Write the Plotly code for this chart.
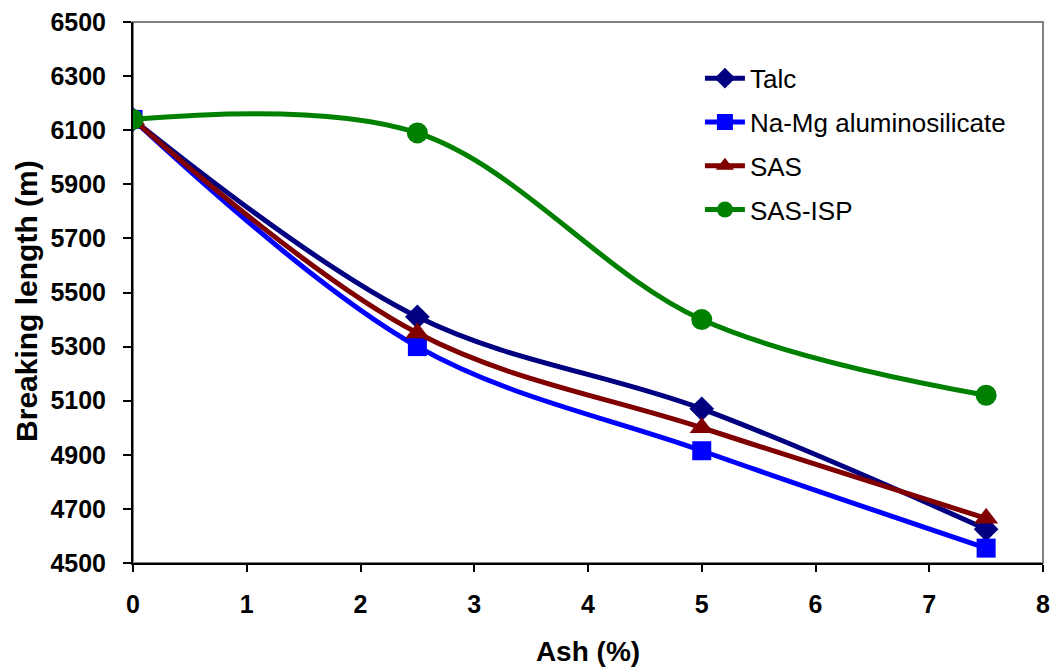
import plotly.graph_objects as go

ash = [0, 2.5, 5, 7.5]
talc = [6140, 5410, 5070, 4625]
namg = [6140, 5300, 4915, 4555]
sas = [6140, 5350, 5000, 4665]
sas_isp = [6140, 6090, 5400, 5120]

series = [
    ("Talc", talc, "#000080", "diamond", 19),
    ("Na-Mg aluminosilicate", namg, "#0000FF", "square", 19),
    ("SAS", sas, "#800000", "triangle-up", 21),
    ("SAS-ISP", sas_isp, "#008000", "circle", 21),
]

fig = go.Figure()
for name, vals, color, sym, sz in series:
    fig.add_trace(go.Scatter(
        x=ash, y=vals, name=name, mode="lines+markers", legendgroup=name,
        line=dict(color=color, width=5, shape="spline", smoothing=1.0),
        marker=dict(color=color, symbol=sym, size=sz),
    ))

fig.add_shape(type="rect", xref="paper", yref="paper", x0=0, y0=0, x1=1, y1=1,
              line=dict(color="#808080", width=2), layer="below")

font = "Liberation Sans, Arial, sans-serif"
fig.add_annotation(text="Breaking length (m)", xref="paper", yref="paper",
                   x=-0.1178, y=0.484, xanchor="center", yanchor="middle",
                   textangle=-90, showarrow=False,
                   font=dict(size=30, family=font, weight="bold", color="black"))

fig.update_layout(
    width=1058, height=670,
    margin=dict(l=133, r=8, t=19, b=106),
    plot_bgcolor="white", paper_bgcolor="white",
    font=dict(family=font, color="black"),
    showlegend=True,
    legend=dict(x=0.623, y=0.9395, xanchor="left", yanchor="top",
                font=dict(size=26, family=font), bgcolor="rgba(0,0,0,0)",
                tracegroupgap=7, itemwidth=40),
    xaxis=dict(range=[0, 8], dtick=1, tick0=0, showgrid=False, zeroline=False,
               showline=True, linecolor="black", linewidth=2,
               ticks="outside", ticklen=7, tickwidth=1.5, tickcolor="black",
               ticklabelstandoff=11,
               tickfont=dict(size=25, family=font, weight="bold"),
               title=dict(text="Ash (%)", font=dict(size=28, family=font, weight="bold"),
                          standoff=24)),
    yaxis=dict(range=[4500, 6500], dtick=200, tick0=4500, showgrid=False, zeroline=False,
               showline=True, linecolor="black", linewidth=2,
               ticks="outside", ticklen=8, tickwidth=1.5, tickcolor="black",
               ticklabelstandoff=12,
               tickfont=dict(size=25, family=font, weight="bold")),
)

fig.write_html("out.html")
